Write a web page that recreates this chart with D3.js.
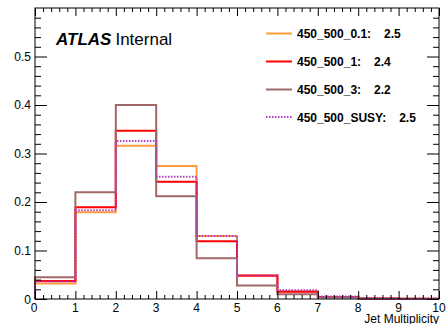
<!DOCTYPE html>
<html>
<head>
<meta charset="utf-8">
<script src="https://cdn.jsdelivr.net/npm/d3@7"></script>
<style>
  body { margin: 0; background: #fff; }
  svg { display: block; font-family: "Liberation Sans", Arial, Helvetica, sans-serif; }
</style>
</head>
<body>
<svg id="chart"></svg>
<script>
// bin edges 0..10, one value per jet multiplicity bin
var binEdges = [0, 1, 2, 3, 4, 5, 6, 7, 8, 9, 10];
var seriesNames = ["450_500_0.1:", "450_500_1:", "450_500_3:", "450_500_SUSY:"];
var seriesMeans = ["2.5", "2.4", "2.2", "2.5"];
var orange01 = [0.032, 0.179, 0.316, 0.274, 0.130, 0.049, 0.016, 0.004, 0.001, 0.0004];
var red1     = [0.037, 0.189, 0.347, 0.242, 0.119, 0.048, 0.015, 0.004, 0.001, 0.0004];
var brown3   = [0.045, 0.220, 0.400, 0.212, 0.084, 0.028, 0.010, 0.003, 0.0006, 0.0002];
var susy     = [0.036, 0.183, 0.326, 0.252, 0.130, 0.049, 0.018, 0.005, 0.001, 0.0005];
var xTicks = [0, 1, 2, 3, 4, 5, 6, 7, 8, 9, 10];
var yTicks = [0, 0.1, 0.2, 0.3, 0.4, 0.5];

var width = 448, height = 324;
var frameL = 35, frameR = 439, frameT = 8, frameB = 299;

var svg = d3.select("#chart").attr("width", width).attr("height", height);

var x = d3.scaleLinear().domain([0, 10]).range([frameL, frameR]);
var y = d3.scaleLinear().domain([0, 0.6]).range([frameB, frameT]);

var series = [
  {values: orange01, color: "#ff9d3c", dash: null},
  {values: red1, color: "#ff0000", dash: null},
  {values: brown3, color: "#a06868", dash: null},
  {values: susy, color: "#b53cc6", dash: "1.5,1.5"}
];

// histogram outlines as step lines
function stepPoints(vals) {
  var pts = [[binEdges[0], 0]];
  vals.forEach(function(v, i) {
    pts.push([binEdges[i], v]);
    pts.push([binEdges[i + 1], v]);
  });
  pts.push([binEdges[binEdges.length - 1], 0]);
  return pts;
}
var line = d3.line().x(d => x(d[0])).y(d => y(d[1]));

svg.selectAll(".hist")
  .data(series)
  .join("path")
  .attr("class", "hist")
  .attr("d", d => line(stepPoints(d.values)))
  .attr("fill", "none")
  .attr("stroke", d => d.color)
  .attr("stroke-width", 2)
  .attr("stroke-dasharray", d => d.dash);

// axes with ROOT style ticks, mirrored on top and right
var minorX = d3.range(0, 10.001, 0.2).filter(v => Math.abs(v - Math.round(v)) > 1e-6);
var minorY = d3.range(0, 0.6001, 0.02).filter(v => Math.abs(v * 10 - Math.round(v * 10)) > 1e-6);

function axisGroup(axis, tx, ty) {
  var g = svg.append("g").attr("transform", "translate(" + tx + "," + ty + ")").call(axis);
  g.select(".domain").remove();
  g.selectAll(".tick line").attr("stroke", "#000").attr("stroke-width", 1);
  return g;
}

axisGroup(d3.axisTop(x).tickValues(xTicks).tickSize(8).tickFormat(""), 0, frameB);
axisGroup(d3.axisTop(x).tickValues(minorX).tickSize(4).tickFormat(""), 0, frameB);
axisGroup(d3.axisBottom(x).tickValues(xTicks).tickSize(8).tickFormat(""), 0, frameT);
axisGroup(d3.axisBottom(x).tickValues(minorX).tickSize(4).tickFormat(""), 0, frameT);
axisGroup(d3.axisRight(y).tickValues(yTicks).tickSize(12).tickFormat(""), frameL, 0);
axisGroup(d3.axisRight(y).tickValues(minorY).tickSize(6).tickFormat(""), frameL, 0);
axisGroup(d3.axisLeft(y).tickValues(yTicks).tickSize(12).tickFormat(""), frameR, 0);
axisGroup(d3.axisLeft(y).tickValues(minorY).tickSize(6).tickFormat(""), frameR, 0);

svg.append("rect")
  .attr("x", frameL).attr("y", frameT)
  .attr("width", frameR - frameL).attr("height", frameB - frameT)
  .attr("fill", "none").attr("stroke", "#000").attr("stroke-width", 1);

// tick labels
svg.selectAll(".xlab")
  .data(xTicks)
  .join("text")
  .attr("class", "xlab")
  .attr("x", d => x(d) + (d === 0 ? -1 : 0))
  .attr("y", 312)
  .attr("text-anchor", "middle")
  .attr("font-size", 12)
  .text(d => d);

svg.selectAll(".ylab")
  .data(yTicks)
  .join("text")
  .attr("class", "ylab")
  .attr("x", 31)
  .attr("y", d => y(d) + 4 + (d === 0 ? 1 : 0))
  .attr("text-anchor", "end")
  .attr("font-size", 12)
  .text(d => d === 0 ? "0" : d3.format(".1f")(d));

svg.append("text")
  .attr("x", frameR).attr("y", 322.5)
  .attr("text-anchor", "end")
  .attr("font-size", 12)
  .text("Jet Multiplicity");

// ATLAS label
var atlas = svg.append("text").attr("x", 56).attr("y", 45).attr("font-size", 17);
atlas.append("tspan").attr("font-weight", "bold").attr("font-style", "italic").text("ATLAS");
atlas.append("tspan").attr("dx", 4).text("Internal");

// legend
var legY = [33.5, 61.5, 89.5, 117];
var leg = svg.selectAll(".leg")
  .data(series)
  .join("g")
  .attr("class", "leg")
  .attr("transform", (d, i) => "translate(0," + legY[i] + ")");

leg.append("line")
  .attr("x1", 266).attr("x2", 292)
  .attr("stroke", d => d.color)
  .attr("stroke-width", 2)
  .attr("stroke-dasharray", d => d.dash);

var legText = leg.append("text")
  .attr("x", 297).attr("y", 4.5)
  .attr("font-size", 12)
  .attr("font-weight", "bold");
legText.append("tspan").text((d, i) => seriesNames[i]);
legText.append("tspan").attr("dx", 13).text((d, i) => seriesMeans[i]);
</script>
</body>
</html>
